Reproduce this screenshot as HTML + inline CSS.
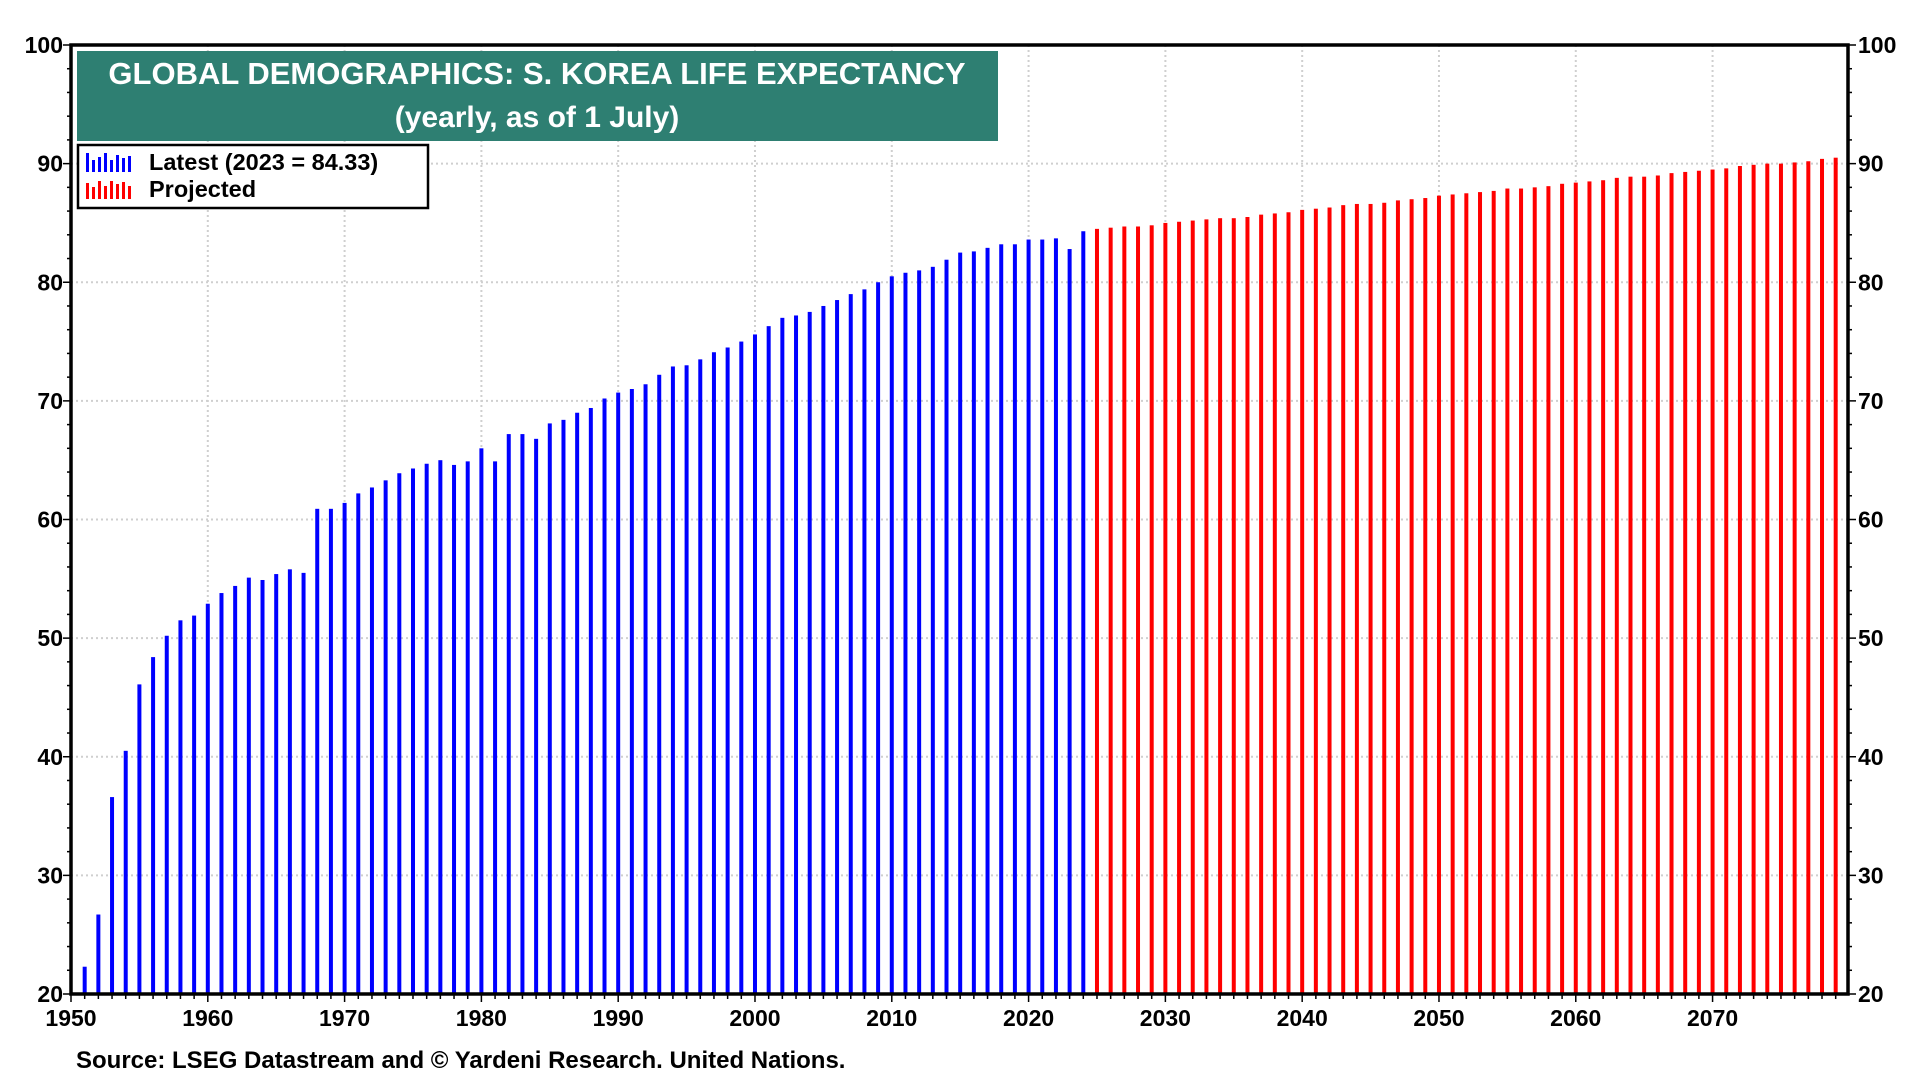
<!DOCTYPE html>
<html><head><meta charset="utf-8"><style>
html,body{margin:0;padding:0;background:#fff;}
svg{display:block;font-family:"Liberation Sans",Arial,sans-serif;font-weight:bold;}
</style></head><body>
<svg id="chart" width="1920" height="1080" viewBox="0 0 1920 1080" xmlns="http://www.w3.org/2000/svg">
<g id="grid"></g>
<g id="bars"></g>
<g id="axes"></g>
<g>
<rect x="77" y="51" width="921" height="90" fill="#2e7f72"/>
<text x="537" y="84" text-anchor="middle" fill="#fff" font-size="31">GLOBAL DEMOGRAPHICS: S. KOREA LIFE EXPECTANCY</text>
<text x="537" y="127" text-anchor="middle" fill="#fff" font-size="30">(yearly, as of 1 July)</text>
</g>
<g>
<rect x="78" y="145" width="350" height="63" fill="#fff" stroke="#000" stroke-width="2.5"/>
<g>
<g fill="#0000ff"><rect x="86" y="153" width="3" height="19"/><rect x="92" y="160" width="3" height="12"/><rect x="98" y="157" width="3" height="15"/><rect x="104" y="153" width="3" height="19"/><rect x="110" y="160" width="3" height="12"/><rect x="116" y="155" width="3" height="17"/><rect x="122" y="158" width="3" height="14"/><rect x="128" y="156" width="3" height="16"/></g>
<text x="149" y="170" font-size="23.5" fill="#000">Latest (2023 = 84.33)</text></g>
<g>
<g fill="#ff0000"><rect x="86" y="183" width="3" height="16"/><rect x="92" y="187" width="3" height="12"/><rect x="98" y="181" width="3" height="18"/><rect x="104" y="186" width="3" height="13"/><rect x="110" y="181" width="3" height="18"/><rect x="116" y="184" width="3" height="15"/><rect x="122" y="182" width="3" height="17"/><rect x="128" y="186" width="3" height="13"/></g>
<text x="149" y="197" font-size="23.5" fill="#000">Projected</text></g>
</g>
<text x="76" y="1068" font-size="24" fill="#000">Source: LSEG Datastream and © Yardeni Research. United Nations.</text>
</svg>
<script>
const latestYears = [];
for (let y = 1951; y <= 2024; y++) latestYears.push(y);
const latestValues = [22.3,26.7,36.6,40.5,46.1,48.4,50.2,51.5,51.9,52.9,53.8,54.4,55.1,54.9,55.4,55.8,55.5,60.9,60.9,61.4,62.2,62.7,63.3,63.9,64.3,64.7,65.0,64.6,64.9,66.0,64.9,67.2,67.2,66.8,68.1,68.4,69.0,69.4,70.2,70.7,71.0,71.4,72.2,72.9,73.0,73.5,74.1,74.5,75.0,75.6,76.3,77.0,77.2,77.5,78.0,78.5,79.0,79.4,80.0,80.5,80.8,81.0,81.3,81.9,82.5,82.6,82.9,83.2,83.2,83.6,83.6,83.7,82.8,84.3];
const projYears = [];
for (let y = 2025; y <= 2079; y++) projYears.push(y);
const projValues = [84.5,84.6,84.7,84.7,84.8,85.0,85.1,85.2,85.3,85.4,85.4,85.5,85.7,85.8,85.9,86.1,86.2,86.3,86.5,86.6,86.6,86.7,86.9,87.0,87.1,87.3,87.4,87.5,87.6,87.7,87.9,87.9,88.0,88.1,88.3,88.4,88.5,88.6,88.8,88.9,88.9,89.0,89.2,89.3,89.4,89.5,89.6,89.8,89.9,90.0,90.0,90.1,90.2,90.4,90.5];
const yTicks = [20,30,40,50,60,70,80,90,100];
const xTicks = [1950,1960,1970,1980,1990,2000,2010,2020,2030,2040,2050,2060,2070];

const L=71,R=1848,T=45,B=994;
const xMin=1950,xMax=2079.9,yMin=20,yMax=100;
const X=v=>L+(v-xMin)/(xMax-xMin)*(R-L);
const Y=v=>B-(v-yMin)/(yMax-yMin)*(B-T);
const NS='http://www.w3.org/2000/svg';
function mk(tag,attrs,parent){const e=document.createElementNS(NS,tag);for(const k in attrs)e.setAttribute(k,attrs[k]);parent.appendChild(e);return e;}
const grid=document.getElementById('grid'),bars=document.getElementById('bars'),axes=document.getElementById('axes');

yTicks.forEach(t=>{
  if(t>yMin&&t<yMax){const g=mk('line',{x1:L,x2:R,y1:Y(t),y2:Y(t),stroke:'#cfcfcf','stroke-width':2,'stroke-dasharray':'2,3'},grid);
  
  }
  const a=mk('text',{x:L-8,y:Y(t)+8,'text-anchor':'end','font-size':23},axes);a.textContent=t;
  
  
  const b=mk('text',{x:R+10,y:Y(t)+8,'font-size':23},axes);b.textContent=t;
  
  
});
xTicks.forEach(t=>{
  if(t>xMin){const g=mk('line',{x1:X(t),x2:X(t),y1:T,y2:B,stroke:'#cfcfcf','stroke-width':2,'stroke-dasharray':'2,3'},grid);
  
  }
  const a=mk('text',{x:X(t),y:B+32,'text-anchor':'middle','font-size':23},axes);a.textContent=t;
  
  
});
latestYears.forEach((yr,i)=>{
  const r=mk('rect',{x:X(yr)-2,y:Y(latestValues[i]),width:4,height:B-Y(latestValues[i]),fill:'#0000ff'},bars);
  
  
});
projYears.forEach((yr,i)=>{
  const r=mk('rect',{x:X(yr)-2,y:Y(projValues[i]),width:4,height:B-Y(projValues[i]),fill:'#ff0000'},bars);
  
  
});
for(let y=1950;y<=2079;y++){const len=(y%10===0)?8:5;mk('line',{x1:X(y),x2:X(y),y1:B,y2:B+len,stroke:'#000','stroke-width':1.5},axes);}
for(let v=20;v<=100;v+=2){const len=(v%10===0)?8:4;
  mk('line',{x1:L-len,x2:L,y1:Y(v),y2:Y(v),stroke:'#000','stroke-width':1.5},axes);
  mk('line',{x1:R,x2:R+len,y1:Y(v),y2:Y(v),stroke:'#000','stroke-width':1.5},axes);}
const frame=mk('rect',{x:L,y:T,width:R-L,height:B-T,fill:'none',stroke:'#000','stroke-width':3.5},axes);


</script>
</body></html>
